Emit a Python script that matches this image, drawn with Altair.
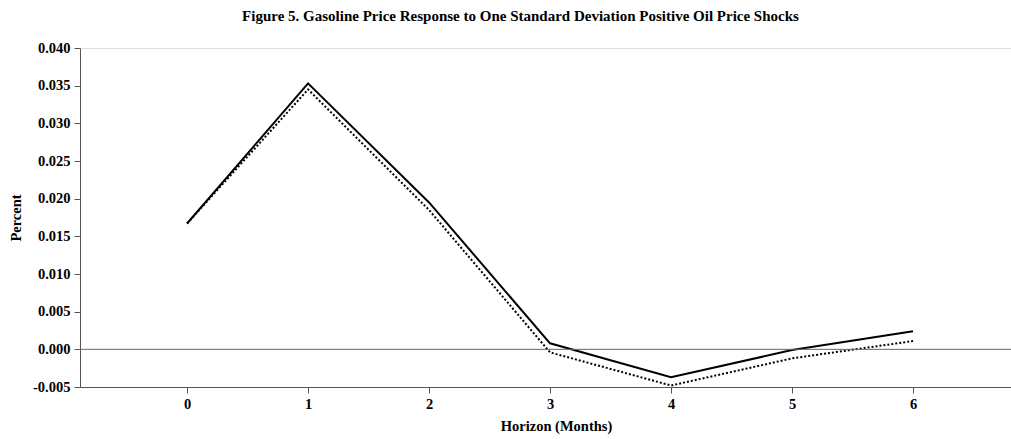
import altair as alt
import pandas as pd

horizon = [0, 1, 2, 3, 4, 5, 6]
solid_vals = [0.0167, 0.0353, 0.0195, 0.0008, -0.0037, -0.0001, 0.0024]
dotted_vals = [0.0167, 0.0345, 0.0185, -0.0004, -0.0048, -0.0012, 0.0011]
y_ticks = [-0.005, 0.000, 0.005, 0.010, 0.015, 0.020, 0.025, 0.030, 0.035, 0.040]
x_ticks = [0, 1, 2, 3, 4, 5, 6]

title_text = "Figure 5. Gasoline Price Response to One Standard Deviation Positive Oil Price Shocks"

df_solid = pd.DataFrame({"h": horizon, "v": solid_vals})
df_dot = pd.DataFrame({"h": horizon, "v": dotted_vals})
df_zero = pd.DataFrame({"v": [0.0]})

FONT = "Liberation Serif"
LS = 14.5

y_scale = alt.Scale(domain=[-0.005, 0.040], nice=False, zero=False)

x_enc = alt.X("h:Q", scale=alt.Scale(domain=[-0.885, 6.81], nice=False, zero=False),
              axis=alt.Axis(values=x_ticks, title="Horizon (Months)", format="d",
                            tickCount=20,
                            grid=False, tickSize=6, labelPadding=4, titlePadding=9,
                            labelOverlap=False,
                            domainColor="#555555", tickColor="#555555",
                            labelFont=FONT, labelFontWeight="bold", labelFontSize=LS,
                            labelColor="black", titleFont=FONT, titleFontWeight="bold",
                            titleFontSize=LS, titleColor="black", titleX=476))
y_enc = alt.Y("v:Q", scale=y_scale,
              axis=alt.Axis(values=y_ticks, title="Percent", grid=False, tickSize=6,
                            tickCount=20,
                            labelExpr="replace(format(datum.value, '.3f'), '\u2212', '-')",
                            labelOverlap=False, labelBound=False,
                            labelPadding=4, titlePadding=9,
                            domainColor="#555555", tickColor="#555555",
                            labelFont=FONT, labelFontWeight="bold", labelFontSize=LS,
                            labelColor="black", titleFont=FONT, titleFontWeight="bold",
                            titleFontSize=LS, titleColor="black"))

solid = alt.Chart(df_solid).mark_line(color="black", strokeWidth=2).encode(x=x_enc, y=y_enc)
dotted = alt.Chart(df_dot).mark_line(color="black", strokeWidth=2, strokeDash=[2, 2]).encode(
    x=alt.X("h:Q"), y=alt.Y("v:Q"))
zero = alt.Chart(df_zero).mark_rule(color="#666666", strokeWidth=1).encode(
    y=alt.Y("v:Q"))

chart = alt.layer(solid, dotted, zero).properties(
    width=931, height=339,
    autosize=alt.AutoSizeParams(type="none"),
    padding={"left": 80, "top": 48, "right": 0, "bottom": 52},
    title=alt.TitleParams(title_text, font=FONT, fontWeight="bold", fontSize=15,
                          color="black", anchor="middle", offset=16, dx=-25),
).configure_view(stroke=None).configure(background="white")

chart.save("out.html", embed_options={"renderer": "svg", "actions": False})
